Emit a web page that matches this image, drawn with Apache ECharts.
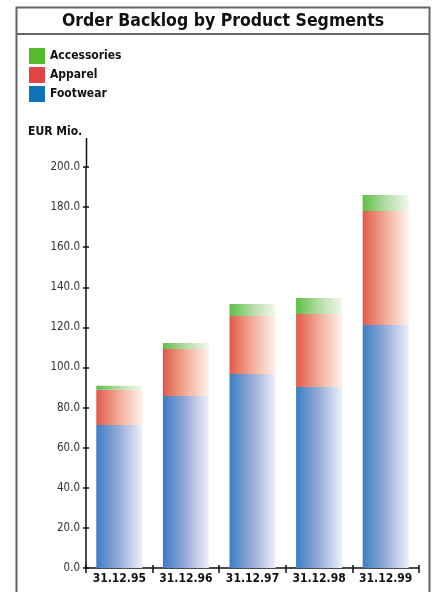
<!DOCTYPE html>
<html>
<head>
<meta charset="utf-8">
<script src="https://cdn.jsdelivr.net/npm/echarts@6/dist/echarts.min.js"></script>
<style>
  html, body { margin: 0; padding: 0; background: #fff; }
  #chart { width: 434px; height: 592px; }
</style>
</head>
<body>
<div id="chart"></div>
<script>
const categories = ['31.12.95', '31.12.96', '31.12.97', '31.12.98', '31.12.99'];
const footwear = [71.3, 85.8, 96.8, 90.3, 121.2];
const apparel = [17.6, 23.4, 28.9, 36.4, 56.9];
const accessories = [2.0, 3.0, 6.0, 8.0, 7.9];

const FONT = '"DejaVu Sans Condensed", "Liberation Sans", sans-serif';

function fade(left, mid, right) {
  return new echarts.graphic.LinearGradient(0, 0, 1, 0, [
    { offset: 0, color: left },
    { offset: 0.5, color: mid },
    { offset: 1, color: right }
  ]);
}

function barSeries(name, data, fill) {
  return {
    name: name,
    type: 'bar',
    stack: 'total',
    barWidth: 46,
    data: data,
    itemStyle: { color: fill }
  };
}

const chart = echarts.init(document.getElementById('chart'));
chart.setOption({
  animation: false,
  textStyle: { fontFamily: FONT },
  grid: { left: 86, right: 15, top: 167, bottom: 24 },
  legend: {
    orient: 'vertical',
    left: 29,
    top: 48,
    padding: 0,
    itemWidth: 16,
    itemHeight: 16,
    itemGap: 3,
    icon: 'rect',
    textStyle: { fontFamily: FONT, fontWeight: 'bold', fontSize: 12, color: '#111' },
    data: [
      { name: 'Accessories', itemStyle: { color: '#55bb2e' } },
      { name: 'Apparel', itemStyle: { color: '#e04545' } },
      { name: 'Footwear', itemStyle: { color: '#0f73ba' } }
    ]
  },
  xAxis: [{
    type: 'category',
    data: categories,
    axisLine: { lineStyle: { color: '#111', width: 1.5 } },
    axisTick: { show: true, length: 5, lineStyle: { color: '#111', width: 1.5 } },
    axisLabel: { color: '#111', fontFamily: FONT, fontWeight: 'bold', fontSize: 12, margin: 5, interval: 0 }
  }, {
    type: 'category',
    data: categories,
    position: 'bottom',
    axisLine: { show: false },
    axisTick: { show: true, inside: true, length: 3, lineStyle: { color: '#111', width: 1.5 } },
    axisLabel: { show: false }
  }],
  yAxis: [{
    type: 'value',
    min: 0,
    max: 200,
    interval: 20,
    splitLine: { show: false },
    axisLine: { show: true, lineStyle: { color: '#111', width: 1.5 } },
    axisTick: { show: true, length: 3, lineStyle: { color: '#111', width: 1.5 } },
    axisLabel: { color: '#333', fontFamily: FONT, fontSize: 11.5, margin: 6, formatter: v => v.toFixed(1) }
  }, {
    type: 'value',
    min: 0,
    max: 200,
    interval: 20,
    position: 'left',
    offset: 0,
    splitLine: { show: false },
    axisLine: { show: false },
    axisTick: { show: true, inside: true, length: 3, lineStyle: { color: '#111', width: 1.5 } },
    axisLabel: { show: false }
  }],
  series: [
    barSeries('Footwear', footwear, fade('#3a7ec4', '#98acd8', '#eef0fa')),
    barSeries('Apparel', apparel, fade('#e25a4b', '#f2ad98', '#fff2ec')),
    barSeries('Accessories', accessories, fade('#5dbf44', '#b5dca6', '#f2f8ee'))
  ],
  graphic: [
    { type: 'rect', shape: { x: 16.5, y: 7.5, width: 413, height: 600 }, style: { fill: 'none', stroke: '#666', lineWidth: 2 }, silent: true },
    { type: 'line', shape: { x1: 16, y1: 34, x2: 430, y2: 34 }, style: { stroke: '#666', lineWidth: 2 }, silent: true },
    { type: 'text', x: 223, y: 21, style: { text: 'Order Backlog by Product Segments', fontFamily: FONT, fontWeight: 'bold', fontSize: 17.5, fill: '#111', align: 'center', verticalAlign: 'middle' } },
    { type: 'text', x: 28, y: 132, style: { text: 'EUR Mio.', fontFamily: FONT, fontWeight: 'bold', fontSize: 12, fill: '#111', align: 'left', verticalAlign: 'middle' } },
    { type: 'line', shape: { x1: 86.5, y1: 138, x2: 86.5, y2: 168 }, style: { stroke: '#111', lineWidth: 1.5 }, silent: true }
  ]
});
</script>
</body>
</html>
